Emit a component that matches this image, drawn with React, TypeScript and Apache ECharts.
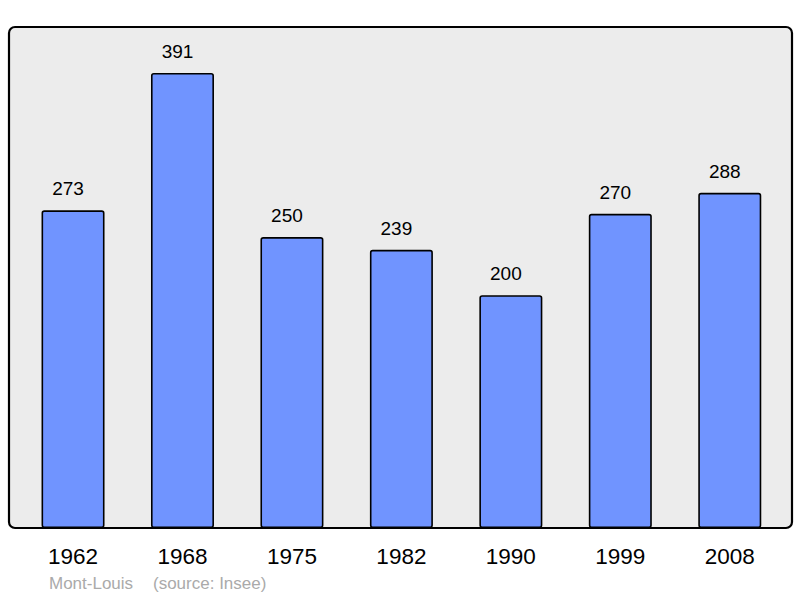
import React, { useEffect, useRef } from "react";
import * as echarts from "echarts";

const years = ["1962", "1968", "1975", "1982", "1990", "1999", "2008"];
const population = [273, 391, 250, 239, 200, 270, 288];
const footerPlace = "Mont-Louis";
const footerSource = "(source: Insee)";

export default function App() {
  const ref = useRef<HTMLDivElement>(null);
  useEffect(() => {
    if (!ref.current) return;
    const chart = echarts.init(ref.current, undefined, { renderer: "svg" });
    const font = "Liberation Sans, Arial, sans-serif";
    chart.setOption({
      animation: false,
      textStyle: { fontFamily: font },
      grid: { left: 18.3, right: 15.5, top: 27.6, bottom: 70, containLabel: false },
      xAxis: {
        type: "category",
        data: years,
        axisLine: { show: false },
        axisTick: { show: false },
        axisLabel: { fontSize: 22.5, color: "#000", margin: 17, fontFamily: font },
      },
      yAxis: {
        type: "value",
        min: 0,
        max: 430,
        show: false,
        splitLine: { show: false },
      },
      graphic: [
        {
          type: "rect",
          z: 0,
          shape: { x: 9, y: 27, width: 783, height: 501, r: 6 },
          style: { fill: "#ececec", stroke: "#000", lineWidth: 2.2 },
        },
        {
          type: "text",
          x: 49,
          y: 575,
          style: { text: footerPlace, fill: "#aaaaaa", fontSize: 17, fontFamily: font },
        },
        {
          type: "text",
          x: 153,
          y: 575,
          style: { text: footerSource, fill: "#aaaaaa", fontSize: 17, fontFamily: font },
        },
      ],
      series: [
        {
          type: "bar",
          data: population,
          barWidth: 63,
          z: 2,
          itemStyle: { color: "#7094ff", borderColor: "#000", borderWidth: 1.6, borderRadius: 2 },
          label: {
            show: true,
            position: "top",
            distance: 12,
            offset: [-5, 0],
            fontSize: 19,
            color: "#000",
            fontFamily: font,
          },
        },
      ],
    });
    return () => chart.dispose();
  }, []);
  return <div ref={ref} style={{ width: 800, height: 598, position: "absolute", left: 0, top: 0 }} />;
}
